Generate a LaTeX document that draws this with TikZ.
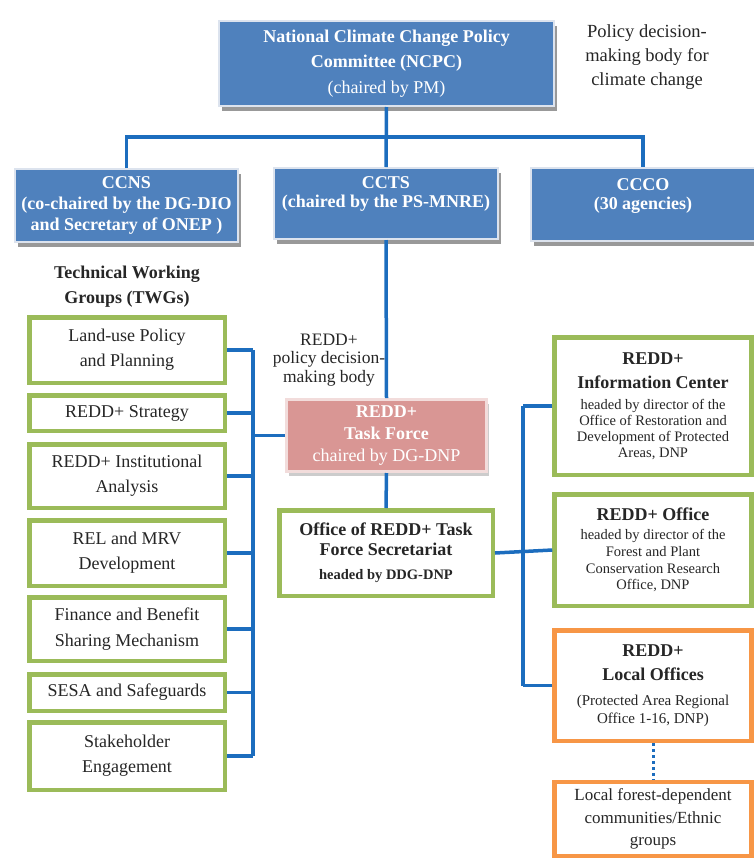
\documentclass[tikz,border=0pt]{standalone}
\usepackage{fontspec}
\setmainfont{Liberation Serif}
\usetikzlibrary{shadows}
\definecolor{cblue}{HTML}{4F81BD}
\definecolor{cbluebd}{HTML}{DCE3EE}
\definecolor{cline}{HTML}{1C6DBE}
\definecolor{cgreen}{HTML}{9BBB59}
\definecolor{corange}{HTML}{F79646}
\definecolor{cpink}{HTML}{D99694}
\definecolor{cpinkbd}{HTML}{F2DCDB}
\definecolor{ctext}{HTML}{262626}
\newcommand{\hdA}[1]{{\fontsize{18}{18}\selectfont\bfseries #1}}
\newcommand{\smA}[1]{{\fontsize{14.5}{16}\selectfont #1}}
\tikzset{
  bluebox/.style={rectangle, fill=cblue, draw=cbluebd, line width=2pt, text=white, align=center, inner sep=0pt,
    drop shadow={shadow xshift=3pt, shadow yshift=-5pt, fill=black!40, opacity=1}},
  pinkbox/.style={rectangle, fill=cpink, draw=cpinkbd, line width=3pt, text=white, align=center, inner sep=0pt,
    drop shadow={shadow xshift=2pt, shadow yshift=-4pt, fill=black!20, opacity=1}},
  greenbox/.style={rectangle, fill=white, draw=cgreen, line width=4.5pt, text=ctext, align=center, inner sep=0pt},
  orangebox/.style={rectangle, fill=white, draw=corange, line width=4.5pt, text=ctext, align=center, inner sep=0pt},
  plaintext/.style={text=ctext, align=center, inner sep=0pt},
  conn/.style={draw=cline, line width=3.5pt},
  dotconn/.style={draw=cline, line width=3pt, dash pattern=on 3pt off 3pt},
  fnt/.style 2 args={font=\fontsize{#1}{#2}\selectfont}
}
\begin{document}
\lineskiplimit=-50pt
\begin{tikzpicture}[x=1pt,y=-1pt]
\useasboundingbox (0,0) rectangle (754,860);

% top level
\node[bluebox, minimum width=335, minimum height=85, fnt={18}{25.5}] (ncpc) at (386.5,63.5)
  {\textbf{National Climate Change Policy}\\\textbf{Committee (NCPC)}\\(chaired by PM)};
\node[plaintext, fnt={18.5}{24}] (ptxt) at (647,57)
  {Policy decision-\\making body for\\climate change};

% second level
\node[bluebox, minimum width=223, minimum height=73, fnt={18}{21}] (ccns) at (126.5,205.5)
  {\textbf{CCNS}\\\textbf{(co-chaired by the DG-DIO}\\\textbf{and Secretary of ONEP )}};
\node[bluebox, minimum width=224, minimum height=71] (ccts) at (386,203.5) {};
\node[plaintext, text=white, fnt={18}{19.5}] (cctsT) at (386,194)
  {\textbf{CCTS}\\\textbf{(chaired by the PS-MNRE)}};
\node[bluebox, minimum width=224, minimum height=73] (ccco) at (643,204.5) {};
\node[plaintext, text=white, fnt={18}{18.5}] (cccoT) at (643,196)
  {\textbf{CCCO}\\\textbf{(30 agencies)}};

\coordinate (hbar) at (0,137);
\draw[conn] (ncpc.south) -- (ccts.north);
\draw[conn] (ccns.north) -- (ccns.north |- hbar) -- (ccco.north |- hbar) -- (ccco.north);

% TWGs
\node[plaintext, fnt={18}{25}] (twg) at (127,287)
  {\textbf{Technical Working}\\\textbf{Groups (TWGs)}};
\node[greenbox, minimum width=195.5, minimum height=65.5, fnt={18}{25}] (lu) at (127,350)
  {Land-use Policy\\and Planning};
\node[greenbox, minimum width=195.5, minimum height=35.5, fnt={18}{25}] (st) at (127,413)
  {REDD+ Strategy};
\node[greenbox, minimum width=195.5, minimum height=63.5, fnt={18}{25}] (ia) at (127,476)
  {REDD+ Institutional\\Analysis};
\node[greenbox, minimum width=195.5, minimum height=65.5, fnt={18}{25}] (rel) at (127,553)
  {REL and MRV\\Development};
\node[greenbox, minimum width=195.5, minimum height=63.5, fnt={18}{26}] (fin) at (127,629)
  {Finance and Benefit\\Sharing Mechanism};
\node[greenbox, minimum width=195.5, minimum height=36.5, fnt={18}{25}] (sesa) at (127,692.5)
  {SESA and Safeguards};
\node[greenbox, minimum width=195.5, minimum height=67.5, fnt={18}{25}] (sh) at (127,756)
  {Stakeholder\\Engagement};

% centre column
\node[plaintext, fnt={17.5}{18.5}] (rtxt) at (329,360)
  {REDD+\\policy decision-\\making body};
\node[pinkbox, minimum width=200, minimum height=72, fnt={18}{22}] (tf) at (386.5,435.5)
  {\textbf{REDD+}\\\textbf{Task Force}\\chaired by DG-DNP};
\node[greenbox, minimum width=213.5, minimum height=85.5, fnt={18}{24}] (off) at (386,553)
  {\textbf{Office of REDD+ Task}\\[-4pt]\textbf{Force Secretariat}\\\smA{\textbf{headed by DDG-DNP}}};

\draw[conn] (ccts.south) -- (tf.north);
\draw[conn] (tf.south) -- (off.north);

% left bus
\coordinate (busL) at (253,0);
\draw[conn] (lu.east -| busL) -- (sh.east -| busL);
\foreach \n in {lu,st,ia,rel,fin,sesa,sh}{\draw[conn] (\n.east) -- (\n.east -| busL);}
\draw[conn] (tf.west) -- (tf.west -| busL);

% right column
\node[greenbox, minimum width=197, minimum height=137.5, fnt={14.5}{16}] (info) at (653,406)
  {\hdA{REDD+}\\[8pt]\hdA{Information Center}\\[5pt]headed by director of the\\Office of Restoration and\\Development of Protected\\Areas, DNP};
\node[greenbox, minimum width=197, minimum height=111.5, fnt={14.5}{16.8}] (ro) at (653,550)
  {\hdA{REDD+ Office}\\[2pt]headed by director of the\\Forest and Plant\\Conservation Research\\Office, DNP};
\node[orangebox, minimum width=197, minimum height=110.5, fnt={15}{18}] (lo) at (653,685.5)
  {\hdA{REDD+}\\[6pt]\hdA{Local Offices}\\[7pt](Protected Area Regional\\Office 1-16, DNP)};
\node[orangebox, minimum width=197, minimum height=74, fnt={17}{22.5}] (lf) at (653,819)
  {Local forest-dependent\\communities/Ethnic\\groups};

\coordinate (busR) at (523,0);
\draw[conn] (info.west -| busR) -- (lo.west -| busR);
\draw[conn] (off.east) -- (ro.west);
\draw[conn] (info.west) -- (info.west -| busR);
\draw[conn] (lo.west) -- (lo.west -| busR);
\draw[dotconn] (lo.south) -- (lf.north);
\end{tikzpicture}
\end{document}
